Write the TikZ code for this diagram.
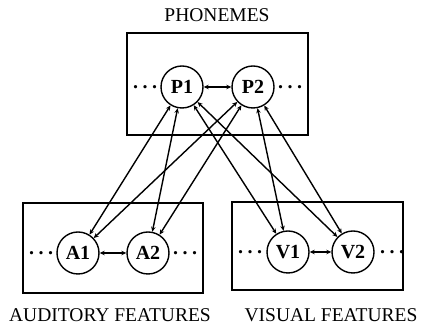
\documentclass[tikz,border=0pt]{standalone}
\usepackage{fontspec}
\setmainfont{Liberation Serif}
\usetikzlibrary{positioning, arrows.meta}

\newcommand{\moreunits}{.\hspace{4.5pt}.\hspace{4.5pt}.}

\begin{document}
\begin{tikzpicture}[
    x=1pt, y=1pt,
    >={Stealth[length=5pt,width=4.5pt]},
    line width=1.4pt,
    node distance=70pt,
    on grid,
    unit/.style={
        draw,
        circle,
        minimum size=42pt,
        inner sep=0pt,
        font=\fontsize{20}{22}\selectfont\bfseries
    },
    layer/.style={draw, rectangle, inner sep=0pt},
    title/.style={font=\fontsize{19.5}{22}\selectfont},
    dots/.style={font=\fontsize{20}{22}\selectfont\bfseries}
]

\useasboundingbox (0,0) rectangle (425,328);

% layers
\node[layer, minimum width=181pt, minimum height=102pt] (pbox) at (217.5,244) {};
\node[layer, minimum width=180pt, minimum height=90pt] (abox) at (113,80) {};
\node[layer, minimum width=171pt, minimum height=88pt] (vbox) at (317.5,82) {};

\node[title] (ptitle) at (217,313) {PHONEMES};
\node[title] (atitle) at (110,13) {AUDITORY FEATURES};
\node[title] (vtitle) at (331,13) {VISUAL FEATURES};

% units
\node[unit] (P1) at (182,241) {P1};
\node[unit, right=71pt of P1] (P2) {P2};
\node[unit] (A1) at (78,75) {A1};
\node[unit, right=of A1] (A2) {A2};
\node[unit] (V1) at (288,76) {V1};
\node[unit, right=65pt of V1] (V2) {V2};

\node[dots, left=37pt of P1] (pl) {\moreunits};
\node[dots, right=37pt of P2] (pr) {\moreunits};
\node[dots, left=37pt of A1] (al) {\moreunits};
\node[dots, right=37pt of A2] (ar) {\moreunits};
\node[dots, left=38pt of V1] (vl) {\moreunits};
\node[dots, right=39pt of V2] (vr) {\moreunits};

\path[<->]
(P1) edge (P2)
(A1) edge (A2)
(V1) edge (V2)
(P1) edge (A1)
(P1) edge (A2)
(P1) edge (V1)
(P1) edge (V2)
(P2) edge (A1)
(P2) edge (A2)
(P2) edge (V1)
(P2) edge (V2);

\end{tikzpicture}
\end{document}
